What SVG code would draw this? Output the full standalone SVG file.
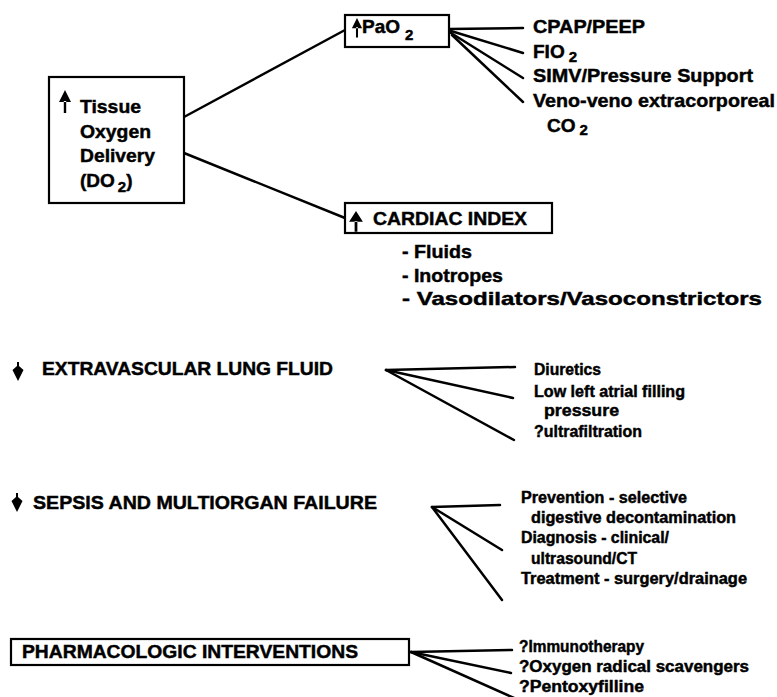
<svg xmlns="http://www.w3.org/2000/svg" xmlns:xlink="http://www.w3.org/1999/xlink" width="777" height="697" viewBox="0 0 777 697">
<style>
.box{fill:#fff;stroke:#000;stroke-width:2.2}
.ln{stroke:#000;stroke-width:2.5;fill:none;stroke-linecap:round}
text{font-family:"Liberation Sans",Arial,Helvetica,sans-serif;font-weight:bold;fill:#000;stroke:#000;stroke-width:0.45}
.big{font-size:19px}
.sub{font-size:15px}
.sm{font-size:16px}
</style>
<defs>
<path id="up" d="M0,0 L-6,12 L6,12 Z M-1.2,11 H1.2 V23 H-1.2 Z"/>
<path id="down" d="M-1,0 H1 V4 L5.5,8 L0,19 L-5.5,8 L-1,4 Z"/>
</defs>
<rect width="777" height="697" fill="#fff"/>

<g id="connectors">
<line class="ln" x1="184" y1="117" x2="345" y2="30"/>
<line class="ln" x1="184" y1="153" x2="345" y2="218"/>
<line class="ln" x1="449" y1="29" x2="523" y2="28"/>
<line class="ln" x1="451" y1="31" x2="523" y2="53"/>
<line class="ln" x1="451" y1="33" x2="523" y2="78"/>
<line class="ln" x1="452" y1="35" x2="523" y2="102"/>
<line class="ln" x1="386" y1="370" x2="515" y2="367"/>
<line class="ln" x1="386" y1="370" x2="513" y2="398"/>
<line class="ln" x1="386" y1="370" x2="514" y2="440"/>
<line class="ln" x1="432" y1="507" x2="500" y2="505"/>
<line class="ln" x1="432" y1="507" x2="502" y2="550"/>
<line class="ln" x1="432" y1="507" x2="502" y2="600"/>
<line class="ln" x1="411" y1="652" x2="512" y2="650"/>
<line class="ln" x1="411" y1="652" x2="511" y2="673"/>
<line class="ln" x1="411" y1="652" x2="514" y2="698"/>
</g>

<g id="tissue-oxygen-delivery">
<rect class="box" x="49" y="77" width="135" height="126"/>
<use xlink:href="#up" x="65" y="90"/>
<text class="big" x="80" y="113" textLength="61" lengthAdjust="spacingAndGlyphs">Tissue</text>
<text class="big" x="80" y="138" textLength="71" lengthAdjust="spacingAndGlyphs">Oxygen</text>
<text class="big" x="80" y="162" textLength="75" lengthAdjust="spacingAndGlyphs">Delivery</text>
<text class="big" x="80" y="187">(DO<tspan class="sub" dx="3" dy="5">2</tspan><tspan dx="0" dy="-5">)</tspan></text>
</g>

<g id="pao2">
<rect class="box" x="345" y="15" width="104" height="32"/>
<use xlink:href="#up" transform="translate(357,18) scale(0.85,0.85)"/>
<text class="big" x="362" y="33">PaO<tspan class="sub" dx="5" dy="7">2</tspan></text>
</g>

<g id="pao2-items">
<text class="big" x="533" y="33" textLength="112" lengthAdjust="spacingAndGlyphs">CPAP/PEEP</text>
<text class="big" x="533" y="58">FIO<tspan class="sub" dx="4" dy="4">2</tspan></text>
<text class="big" x="533" y="82" textLength="220" lengthAdjust="spacingAndGlyphs">SIMV/Pressure Support</text>
<text class="big" x="533" y="107" textLength="242" lengthAdjust="spacingAndGlyphs">Veno-veno extracorporeal</text>
<text class="big" x="547" y="132">CO<tspan class="sub" dx="4" dy="3">2</tspan></text>
</g>

<g id="cardiac-index">
<rect class="box" x="345" y="203" width="207" height="30"/>
<use xlink:href="#up" transform="translate(356,211) scale(1.15,0.9)"/>
<text class="big" x="373" y="225" textLength="154" lengthAdjust="spacingAndGlyphs">CARDIAC INDEX</text>
</g>

<g id="cardiac-items">
<text class="big" x="402" y="258" textLength="70" lengthAdjust="spacingAndGlyphs">- Fluids</text>
<text class="big" x="402" y="282" textLength="101" lengthAdjust="spacingAndGlyphs">- Inotropes</text>
<text class="big" x="402" y="305" textLength="360" lengthAdjust="spacingAndGlyphs">- Vasodilators/Vasoconstrictors</text>
</g>

<g id="extravascular-lung-fluid">
<use xlink:href="#down" x="18" y="362"/>
<text class="big" x="42" y="375" textLength="291" lengthAdjust="spacingAndGlyphs">EXTRAVASCULAR LUNG FLUID</text>
</g>

<g id="extravascular-items">
<text class="sm" x="534" y="375" textLength="67" lengthAdjust="spacingAndGlyphs">Diuretics</text>
<text class="sm" x="534" y="397" textLength="151" lengthAdjust="spacingAndGlyphs">Low left atrial filling</text>
<text class="sm" x="544" y="416" textLength="75" lengthAdjust="spacingAndGlyphs">pressure</text>
<text class="sm" x="534" y="437" textLength="108" lengthAdjust="spacingAndGlyphs">?ultrafiltration</text>
</g>

<g id="sepsis-multiorgan-failure">
<use xlink:href="#down" x="17" y="493"/>
<text class="big" x="33" y="509" textLength="344" lengthAdjust="spacingAndGlyphs">SEPSIS AND MULTIORGAN FAILURE</text>
</g>

<g id="sepsis-items">
<text class="sm" x="521" y="503" textLength="166" lengthAdjust="spacingAndGlyphs">Prevention - selective</text>
<text class="sm" x="531" y="523" textLength="205" lengthAdjust="spacingAndGlyphs">digestive decontamination</text>
<text class="sm" x="521" y="543" textLength="148" lengthAdjust="spacingAndGlyphs">Diagnosis - clinical/</text>
<text class="sm" x="531" y="564" textLength="106" lengthAdjust="spacingAndGlyphs">ultrasound/CT</text>
<text class="sm" x="521" y="584" textLength="226" lengthAdjust="spacingAndGlyphs">Treatment - surgery/drainage</text>
</g>

<g id="pharmacologic-interventions">
<rect class="box" x="11" y="639" width="398" height="26"/>
<text class="big" x="22" y="658" textLength="336" lengthAdjust="spacingAndGlyphs">PHARMACOLOGIC INTERVENTIONS</text>
</g>

<g id="pharmacologic-items">
<text class="sm" x="519" y="652" textLength="125" lengthAdjust="spacingAndGlyphs">?Immunotherapy</text>
<text class="sm" x="519" y="672" textLength="230" lengthAdjust="spacingAndGlyphs">?Oxygen radical scavengers</text>
<text class="sm" x="519" y="692" textLength="125" lengthAdjust="spacingAndGlyphs">?Pentoxyfilline</text>
</g>
</svg>
